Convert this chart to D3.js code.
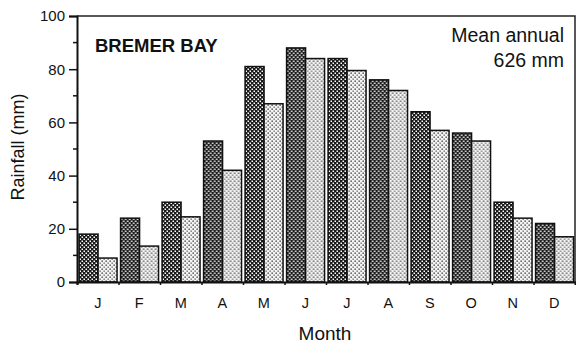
<!DOCTYPE html>
<html>
<head>
<meta charset="utf-8">
<script src="https://cdn.jsdelivr.net/npm/d3@7"></script>
<style>
  body { margin: 0; background: #fff; }
  text { font-family: "Liberation Sans", Arial, sans-serif; fill: #111; }
</style>
</head>
<body>
<div id="chart"></div>
<script>
//Monthly rainfall at Bremer Bay, two bars per month
let months = ['J', 'F', 'M', 'A', 'M', 'J', 'J', 'A', 'S', 'O', 'N', 'D'];
let series = ['mean', 'median'];
let mean_values = [18, 24, 30, 53, 81, 88, 84, 76, 64, 56, 30, 22];
let median_values = [9, 13.5, 24.5, 42, 67, 84, 79.5, 72, 57, 53, 24, 17];
let y_ticks = [0, 20, 40, 60, 80, 100];
let y_minor = [10, 30, 50, 70, 90];

let width = 576, height = 343;
let plot = {left: 77, right: 575, top: 16, bottom: 282};

let svg = d3.select('#chart').append('svg').attr('width', width).attr('height', height);

//Fill patterns imitating the screen tones
let defs = svg.append('defs');
let dark = defs.append('pattern').attr('id', 'dark').attr('patternUnits', 'userSpaceOnUse')
    .attr('width', 4).attr('height', 4);
dark.append('rect').attr('width', 4).attr('height', 4).attr('fill', '#1a1a1a');
dark.append('rect').attr('x', 0.5).attr('y', 0.5).attr('width', 1.5).attr('height', 1.5).attr('fill', '#fff');
dark.append('rect').attr('x', 2.5).attr('y', 2.5).attr('width', 1.5).attr('height', 1.5).attr('fill', '#fff');
let light = defs.append('pattern').attr('id', 'light').attr('patternUnits', 'userSpaceOnUse')
    .attr('width', 4).attr('height', 4);
light.append('rect').attr('width', 4).attr('height', 4).attr('fill', '#f4f4f4');
light.append('rect').attr('x', 0.5).attr('y', 0.5).attr('width', 1.3).attr('height', 1.3).attr('fill', '#222');
light.append('rect').attr('x', 2.5).attr('y', 2.5).attr('width', 1.3).attr('height', 1.3).attr('fill', '#555');

let x = d3.scaleBand().domain(d3.range(months.length)).range([plot.left, plot.right]).padding(0);
let inner = d3.scaleBand().domain(series).range([x.bandwidth() * 0.05, x.bandwidth() * 0.965]).padding(0);
let y = d3.scaleLinear().domain([0, 100]).range([plot.bottom, plot.top]);

let bar_data = months.map((m, i) => ({i: i, values: [
    {key: 'mean', value: mean_values[i]},
    {key: 'median', value: median_values[i]}
]}));

//Bars
let groups = svg.selectAll('.month').data(bar_data).enter().append('g')
    .attr('class', 'month')
    .attr('transform', d => 'translate(' + x(d.i) + ',0)');
groups.selectAll('rect').data(d => d.values).enter().append('rect')
    .attr('x', d => inner(d.key))
    .attr('y', d => y(d.value))
    .attr('width', inner.bandwidth())
    .attr('height', d => y(0) - y(d.value))
    .attr('fill', d => d.key === 'mean' ? 'url(#dark)' : 'url(#light)')
    .attr('stroke', '#111')
    .attr('stroke-width', 1.5);

//Frame top and right
svg.append('path')
    .attr('d', 'M' + plot.left + ',' + plot.top + 'H' + plot.right + 'V' + plot.bottom)
    .attr('fill', 'none').attr('stroke', '#222').attr('stroke-width', 1.5);

//Y axis
let yAxis = d3.axisLeft(y).tickValues(y_ticks).tickSize(8).tickPadding(4).tickFormat(d3.format('d'));
let yg = svg.append('g').attr('transform', 'translate(' + plot.left + ',0)').call(yAxis);
yg.select('.domain').attr('stroke-width', 2).attr('stroke', '#111');
yg.selectAll('.tick line').attr('stroke-width', 1.5).attr('stroke', '#111');
yg.selectAll('.tick text').attr('font-size', 15).attr('font-family', '"Liberation Sans", Arial, sans-serif').attr('fill', '#111');
yg.selectAll('.minor').data(y_minor).enter().append('line')
    .attr('class', 'minor')
    .attr('x1', -4).attr('x2', 0)
    .attr('y1', d => y(d)).attr('y2', d => y(d))
    .attr('stroke', '#111').attr('stroke-width', 1.5);

//X axis: ticks on month boundaries, labels centred under months
let bx = d3.scaleLinear().domain([0, months.length]).range([plot.left, plot.right]);
let xAxis = d3.axisBottom(bx).tickValues(d3.range(0, months.length)).tickSize(3).tickFormat('');
let xg = svg.append('g').attr('transform', 'translate(0,' + plot.bottom + ')').call(xAxis);
xg.select('.domain').attr('stroke-width', 2).attr('stroke', '#111');
xg.selectAll('.tick line').attr('stroke-width', 1.5).attr('stroke', '#111');
svg.selectAll('.mlabel').data(months).enter().append('text')
    .attr('class', 'mlabel')
    .attr('x', (d, i) => x(i) + x.bandwidth() / 2)
    .attr('y', 308)
    .attr('text-anchor', 'middle')
    .attr('font-size', 14.5)
    .text(d => d);

//Axis titles
svg.append('text').attr('transform', 'translate(24,147) rotate(-90)')
    .attr('text-anchor', 'middle').attr('font-size', 18).text('Rainfall (mm)');
svg.append('text').attr('x', 325).attr('y', 340)
    .attr('text-anchor', 'middle').attr('font-size', 19).text('Month');

//Labels inside the plot
svg.append('text').attr('x', 95).attr('y', 52)
    .attr('font-size', 18.5).attr('font-weight', 'bold').text('BREMER BAY');
svg.append('text').attr('x', 564).attr('y', 42)
    .attr('text-anchor', 'end').attr('font-size', 19.5).text('Mean annual');
svg.append('text').attr('x', 564).attr('y', 67)
    .attr('text-anchor', 'end').attr('font-size', 19.5).text('626 mm');
</script>
</body>
</html>
